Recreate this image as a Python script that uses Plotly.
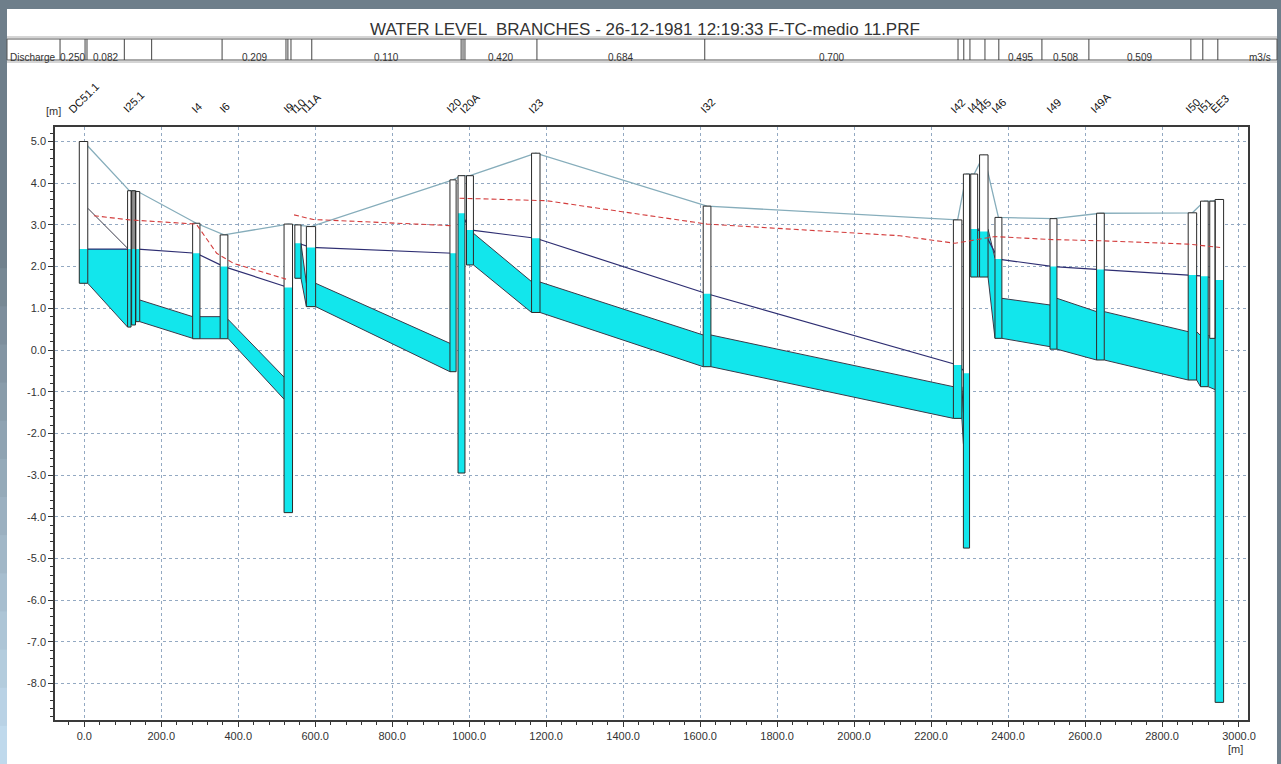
import plotly.graph_objects as go

# ------------------------------------------------------------------ data
TITLE = "WATER LEVEL  BRANCHES - 26-12-1981 12:19:33 F-TC-medio 11.PRF"

NODE_NAMES = ["DC51.1", "I25.0", "I25.1", "I25.2", "I4", "I6", "I9", "I10", "I11A",
              "I20", "I20.1", "I20A", "I23", "I32", "I42", "I43", "I44", "I45", "I46",
              "I49", "I49A", "I50", "I51", "I52", "EE3"]
NODE_LABELS = ["DC51.1", "", "I25.1", "", "I4", "I6", "I9", "I10", "I11A",
               "I20", "", "I20A", "I23", "I32", "I42", "", "I44", "I45", "I46",
               "I49", "I49A", "I50", "I51", "", "EE3"]
NODE_CHAINAGE = [-2, 117, 128, 139, 291, 363, 530, 555, 589,
                 958, 980, 1002, 1173, 1618, 2269, 2292, 2312, 2337, 2375,
                 2518, 2640, 2879, 2910, 2931, 2949]
NODE_DIAM = [22, 9, 10, 10, 19, 20, 22, 16, 24,
             16, 18, 18, 22, 20, 22, 16, 18, 22, 18,
             18, 20, 22, 20, 14, 22]
NODE_BOTTOM = [1.60, 0.55, 0.60, 0.68, 0.27, 0.27, -3.90, 1.72, 1.04,
               -0.52, -2.95, 2.04, 0.90, -0.40, -1.64, -4.75, 1.75, 1.75, 0.28,
               0.02, -0.24, -0.72, -0.88, 0.28, -8.45]
NODE_GROUND = [5.00, 3.82, 3.82, 3.80, 3.04, 2.76, 3.02, 3.00, 2.96,
               4.08, 4.18, 4.18, 4.72, 3.45, 3.12, 4.22, 4.22, 4.68, 3.18,
               3.15, 3.28, 3.29, 3.57, 3.57, 3.61]
NODE_WATER = [2.42, 2.42, 2.42, 2.42, 2.32, 2.00, 1.50, 2.56, 2.46,
              2.32, 3.28, 2.88, 2.68, 1.35, -0.36, -0.56, 2.90, 2.84, 2.18,
              2.00, 1.93, 1.80, 1.77, None, 1.68]
PUMP_NODES = ["I9", "I20", "I43"]          # water line is broken after these

PIPE_FROM = ["DC51.1", "I25.2", "I4", "I6", "I10", "I11A", "I20A", "I23", "I32",
             "I42", "I44", "I45", "I46", "I49", "I49A", "I50", "I51"]
PIPE_TO = ["I25.0", "I4", "I6", "I9", "I11A", "I20", "I23", "I32", "I42",
           "I43", "I45", "I46", "I49", "I49A", "I50", "I51", "EE3"]
PIPE_INV_UP = [1.60, 0.68, 0.27, 0.28, 1.72, 1.04, 2.04, 0.90, -0.40,
               -1.64, 1.75, 1.75, 0.28, 0.02, -0.24, -0.72, -0.88]
PIPE_INV_DN = [0.55, 0.28, 0.27, -1.18, 1.04, -0.52, 0.90, -0.40, -1.64,
               -2.25, 1.75, 0.28, 0.08, -0.24, -0.72, -0.88, -0.95]
PIPE_CROWN_UP = [3.40, 1.20, 0.80, 0.74, 2.56, 1.60, 2.80, 1.63, 0.36,
                 -0.88, 2.90, 2.90, 1.24, 1.24, 0.92, 0.44, 0.35]
PIPE_CROWN_DN = [2.44, 0.80, 0.80, -0.65, 1.60, 0.16, 1.64, 0.36, -0.88,
                 -1.50, 2.90, 2.20, 1.08, 0.92, 0.44, 0.35, 0.30]

RED_X = [25, 118, 291, 344, 387, 524, None, 545, 595, 864, 955, None,
         975, 1201, 1618, 2119, 2262, 2366, 2509, 2639, 2868, 2951]
RED_Y = [3.22, 3.12, 3.02, 2.32, 2.08, 1.70, None, 3.24, 3.13, 3.02, 2.98, None,
         3.64, 3.58, 3.02, 2.74, 2.56, 2.72, 2.65, 2.62, 2.54, 2.46]

Q_BREAKS = [-63, 2, 7, 104, 175, 358, 524, 529, 537, 591, 979, 984, 989, 1176,
            1612, 2270, 2285, 2301, 2340, 2376, 2488, 2610, 2875, 2906, 2945]
Q_VALUES = ["0.250", "", "0.082", "", "", "0.209", "", "", "", "0.110", "", "",
            "0.420", "0.684", "0.700", "", "", "", "", "0.495", "0.508", "0.509", "", ""]
Q_HEADER = "Discharge"
Q_UNIT = "m3/s"

X_TICKS = [0, 200, 400, 600, 800, 1000, 1200, 1400, 1600, 1800, 2000, 2200,
           2400, 2600, 2800, 3000]
Y_TICKS = [5, 4, 3, 2, 1, 0, -1, -2, -3, -4, -5, -6, -7, -8]

# ------------------------------------------------------------------ style
CYAN = "#12e6ec"
NAVY = "#2e2e72"
GROUND = "#86adbb"
RED = "#d33c3c"
EDGE = "#2a2a2a"
GRID = "#93a9c2"
FONT = "Liberation Sans, Arial, sans-serif"

W, H = 1281, 764
ML, MR, MT, MB = 55, 33, 127, 44
PW, PH = W - ML - MR, H - MT - MB


def fx(p):
    return (p - ML) / PW


def fy(p):
    return (H - MB - p) / PH


idx = {n: i for i, n in enumerate(NODE_NAMES)}
fig = go.Figure()


def add(x, y, **kw):
    fig.add_trace(go.Scatter(x=x, y=y, hoverinfo="skip", showlegend=False, **kw))


# ground line
add(NODE_CHAINAGE, NODE_GROUND, mode="lines", line=dict(color=GROUND, width=1.3))

# pipes: cyan fill and edges
fx_, fy_, ex, ey = [], [], [], []
for k in range(len(PIPE_FROM)):
    i, j = idx[PIPE_FROM[k]], idx[PIPE_TO[k]]
    x0 = NODE_CHAINAGE[i] + NODE_DIAM[i] / 2
    x1 = NODE_CHAINAGE[j] - NODE_DIAM[j] / 2
    w0 = NODE_WATER[i] if NODE_WATER[i] is not None else PIPE_CROWN_UP[k]
    w1 = NODE_WATER[j] if NODE_WATER[j] is not None else PIPE_CROWN_DN[k]
    t0, t1 = min(PIPE_CROWN_UP[k], w0), min(PIPE_CROWN_DN[k], w1)
    fx_ += [x0, x1, x1, x0, x0, None]
    fy_ += [PIPE_INV_UP[k], PIPE_INV_DN[k], t1, t0, PIPE_INV_UP[k], None]
    ex += [x0, x1, None, x0, x1, None]
    ey += [PIPE_INV_UP[k], PIPE_INV_DN[k], None, PIPE_CROWN_UP[k], PIPE_CROWN_DN[k], None]
add(fx_, fy_, mode="lines", fill="toself", fillcolor=CYAN, line=dict(width=0))
add(ex, ey, mode="lines", line=dict(color="#3a3a4a", width=1))

# water level line
wx, wy = [], []
for n, x, w in zip(NODE_NAMES, NODE_CHAINAGE, NODE_WATER):
    if w is not None:
        wx.append(x)
        wy.append(w)
    if n in PUMP_NODES:
        wx.append(None)
        wy.append(None)
add(wx, wy, mode="lines", line=dict(color=NAVY, width=1.2))

# nodes
bx, by, cx, cy, gx, gy, ox, oy = [], [], [], [], [], [], [], []
for n, x, d, b, g, w in zip(NODE_NAMES, NODE_CHAINAGE, NODE_DIAM, NODE_BOTTOM,
                            NODE_GROUND, NODE_WATER):
    xl, xr = x - d / 2, x + d / 2
    bx += [xl, xr, xr, xl, xl, None]
    by += [b, b, g, g, b, None]
    ox += [xl, xr, xr, xl, xl, None]
    oy += [b, b, g, g, b, None]
    if w is not None and w > b:
        cx += [xl, xr, xr, xl, xl, None]
        cy += [b, b, w, w, b, None]
    if n == "I25.1" and w is not None:
        gx += [xl, xr, xr, xl, xl, None]
        gy += [w, w, g, g, w, None]
add(bx, by, mode="lines", fill="toself", fillcolor="white", line=dict(width=0))
add(gx, gy, mode="lines", fill="toself", fillcolor="#8e8e8e", line=dict(width=0))
add(cx, cy, mode="lines", fill="toself", fillcolor=CYAN, line=dict(width=0))
add(ox, oy, mode="lines", line=dict(color=EDGE, width=1))

# red dashed line
add(RED_X, RED_Y, mode="lines", line=dict(color=RED, width=1.1, dash="5px,3px"))

# ------------------------------------------------------------------ frame & table
shapes = [dict(type="rect", xref="paper", yref="paper", x0=fx(7), x1=fx(1277),
               y0=fy(H + 5), y1=fy(9), fillcolor="white", line=dict(width=0),
               layer="below")]
# left gradient border
c_top, c_bot = (110, 126, 138), (195, 221, 240)
n_b = 14
for k in range(n_b):
    y0p = 230 + (H - 230) * k / n_b
    y1p = 230 + (H - 230) * (k + 1) / n_b
    t = (k + 0.5) / n_b
    col = "rgb(%d,%d,%d)" % tuple(int(a + (b - a) * t) for a, b in zip(c_top, c_bot))
    shapes.append(dict(type="rect", xref="paper", yref="paper", x0=fx(-2), x1=fx(7),
                       y0=fy(y1p + 1), y1=fy(y0p), fillcolor=col, line=dict(width=0),
                       layer="below"))

# discharge table
TT, TB = 39, 60
shapes.append(dict(type="rect", xref="paper", yref="paper", x0=fx(7), x1=fx(1277),
                   y0=fy(TB), y1=fy(TT), line=dict(color="#555", width=1)))
for yy in (TT - 2, TB + 2):
    shapes.append(dict(type="line", xref="paper", yref="paper", x0=fx(7), x1=fx(1277),
                       y0=fy(yy), y1=fy(yy), line=dict(color="#aaa", width=1)))
for b in Q_BREAKS:
    shapes.append(dict(type="line", xref="x", yref="paper", x0=b, x1=b,
                       y0=fy(TB), y1=fy(TT), line=dict(color="#444", width=1)))

annotations = [
    dict(text=TITLE, xref="paper", yref="paper", x=fx(645), y=fy(18),
         showarrow=False, font=dict(size=17, color="#333")),
    dict(text=Q_HEADER, xref="paper", yref="paper", x=fx(8), y=fy(50),
         xanchor="left", showarrow=False, font=dict(size=10, color="#333")),
    dict(text=Q_UNIT, xref="paper", yref="paper", x=fx(1273), y=fy(50),
         xanchor="right", showarrow=False, font=dict(size=10, color="#333")),
    dict(text="[m]", xref="paper", yref="paper", x=fx(44), y=fy(103),
         showarrow=False, font=dict(size=11, color="#333")),
    dict(text="[m]", xref="paper", yref="paper", x=fx(1245), y=fy(757),
         showarrow=False, font=dict(size=11, color="#333")),
]
for k, v in enumerate(Q_VALUES):
    if v:
        annotations.append(dict(text=v, xref="x", yref="paper",
                                x=(Q_BREAKS[k] + Q_BREAKS[k + 1]) / 2, y=fy(50),
                                showarrow=False, font=dict(size=10, color="#333")))
for lab, x in zip(NODE_LABELS, NODE_CHAINAGE):
    if lab:
        annotations.append(dict(text=lab, xref="x", yref="paper", x=x, y=fy(118),
                                xanchor="center", yanchor="bottom", textangle=-45,
                                showarrow=False, font=dict(size=11, color="#111")))

axis_common = dict(showgrid=True, gridcolor=GRID, griddash="3px,3px", gridwidth=1,
                   zeroline=False, showline=True, mirror=True, linecolor="#3a3a3a",
                   linewidth=1.5, ticks="outside", ticklen=5, tickcolor="#333",
                   tickfont=dict(size=11, color="#333"))

fig.update_layout(
    width=W, height=H, autosize=False,
    margin=dict(l=ML, r=MR, t=MT, b=MB, pad=0),
    paper_bgcolor="rgb(110,126,138)", plot_bgcolor="white",
    showlegend=False, font=dict(family=FONT, size=11, color="#333"),
    shapes=shapes, annotations=annotations,
    xaxis=dict(range=[-76.1, 3023.4], tickmode="array", tickvals=X_TICKS,
               ticktext=["%.1f" % v for v in X_TICKS],
               minor=dict(tickmode="linear", tick0=0, dtick=40, ticks="outside",
                          ticklen=3, tickcolor="#333", showgrid=False),
               **axis_common),
    yaxis=dict(range=[-8.873, 5.348], tickmode="array", tickvals=Y_TICKS,
               ticktext=["%.1f" % v for v in Y_TICKS],
               minor=dict(tickmode="linear", tick0=0, dtick=0.2, ticks="outside",
                          ticklen=3, tickcolor="#333", showgrid=False),
               **axis_common),
)

fig.write_html("out.html", config={"displayModeBar": False},
               post_script="document.body.style.margin='0px';")
